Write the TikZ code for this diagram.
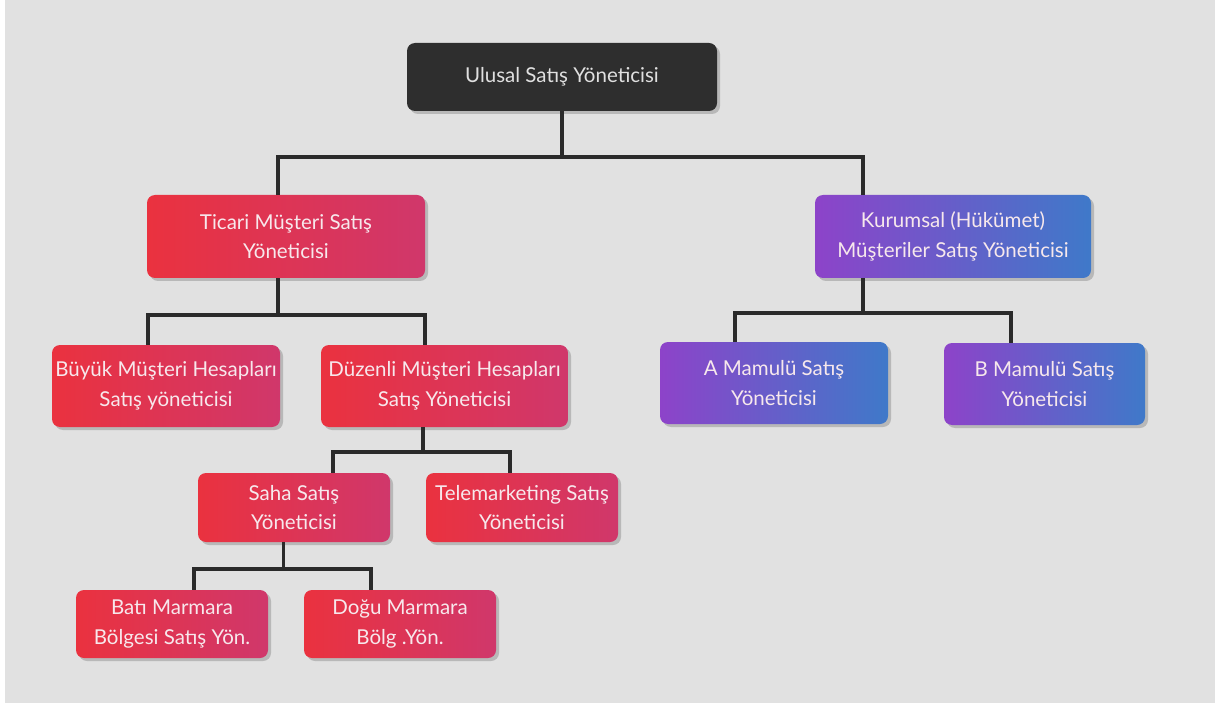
\documentclass[tikz,border=0pt]{standalone}
\usepackage{fontspec}
\setmainfont{Lato}
\usetikzlibrary{shadows}
\definecolor{bgcol}{HTML}{E1E1E1}
\definecolor{darkbox}{HTML}{2E2E2E}
\definecolor{redL}{HTML}{EA323F}
\definecolor{redR}{HTML}{D0376B}
\definecolor{purL}{HTML}{8D43C9}
\definecolor{purR}{HTML}{3F79C9}
\definecolor{linecol}{HTML}{2A2A2A}
\definecolor{txtlight}{HTML}{F7E8EC}
\tikzset{
  box/.style={rounded corners=8pt, align=center, inner sep=0pt,
    font=\fontsize{20.5}{29.5}\selectfont,
    drop shadow={shadow xshift=3pt, shadow yshift=-3pt, opacity=.18, fill=black}},
  darkbox/.style={box, fill=darkbox, text=white!88!black},
  redbox/.style={box, left color=redL, right color=redR, text=txtlight},
  purbox/.style={box, left color=purL, right color=purR, text=txtlight},
  conn/.style={draw=linecol, line width=3.6pt}
}
\begin{document}
\begin{tikzpicture}[x=1pt, y=-1pt]
  % canvas
  \fill[white] (0,0) rectangle (1215,703);
  \fill[bgcol] (5,0) rectangle (1215,703);
  \useasboundingbox (0,0) rectangle (1215,703);

  % level 0
  \node[darkbox, minimum width=310pt, minimum height=68pt] (top) at (562,77) {Ulusal Satış Yöneticisi};

  % level 1
  \node[redbox, minimum width=278pt, minimum height=83pt] (tic) at (286,236.5) {Ticari Müşteri Satış\\Yöneticisi};
  \node[purbox, minimum width=276pt, minimum height=83pt] (kur) at (953,236.5) {Kurumsal (Hükümet)\\Müşteriler Satış Yöneticisi};

  % level 2
  \node[redbox, minimum width=228pt, minimum height=82pt] (buy) at (166,386) {Büyük Müşteri Hesapları\\Satış yöneticisi};
  \node[redbox, minimum width=247pt, minimum height=82pt] (duz) at (444.5,386) {Düzenli Müşteri Hesapları\\Satış Yöneticisi};
  \node[purbox, minimum width=228pt, minimum height=82pt] (ama) at (774,383) {A Mamulü Satış\\Yöneticisi};
  \node[purbox, minimum width=201pt, minimum height=82pt] (bma) at (1044.5,384) {B Mamulü Satış\\Yöneticisi};

  % level 3
  \node[redbox, minimum width=192pt, minimum height=69pt] (saha) at (294,507.5) {Saha Satış\\Yöneticisi};
  \node[redbox, minimum width=192pt, minimum height=69pt] (tele) at (522,507.5) {Telemarketing Satış\\Yöneticisi};

  % level 4
  \node[redbox, minimum width=192pt, minimum height=68pt] (bati) at (172,624) {Batı Marmara\\Bölgesi Satış Yön.};
  \node[redbox, minimum width=192pt, minimum height=68pt] (dogu) at (400,624) {Doğu Marmara\\Bölg .Yön.};

  % branch points
  \coordinate (j0) at (562,157);
  \coordinate (j1) at (277.7,315);
  \coordinate (j2) at (423,452);
  \coordinate (j3) at (283.5,569);
  \coordinate (j4) at (862.7,313);

  % connectors
  \draw[conn] (top.south) -- (j0);
  \draw[conn] ([xshift=-8.3pt]tic.north) |- (j0) -| ([xshift=-90.3pt]kur.north);
  \draw[conn] ([xshift=-8.3pt]tic.south) -- (j1);
  \draw[conn] ([xshift=-18pt]buy.north) |- (j1) -| ([xshift=-19.5pt]duz.north);
  \draw[conn] ([xshift=-21.5pt]duz.south) -- (j2);
  \draw[conn] ([xshift=39pt]saha.north) |- (j2) -| ([xshift=-12pt]tele.north);
  \draw[conn] ([xshift=-10.5pt]saha.south) -- (j3);
  \draw[conn] ([xshift=22pt]bati.north) |- (j3) -| ([xshift=-29pt]dogu.north);
  \draw[conn] ([xshift=-90.3pt]kur.south) -- (j4);
  \draw[conn] ([xshift=-39pt]ama.north) |- (j4) -| ([xshift=-33.5pt]bma.north);
\end{tikzpicture}
\end{document}
